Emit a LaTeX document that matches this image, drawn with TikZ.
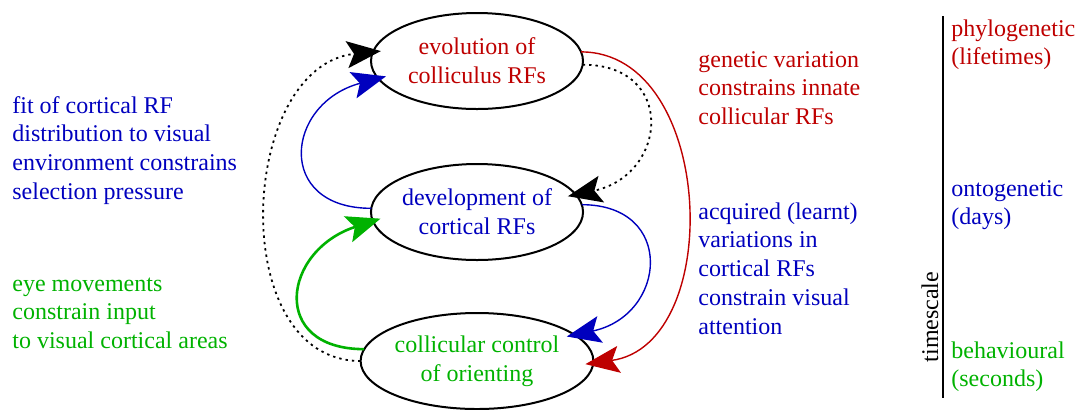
\documentclass[tikz,border=0pt]{standalone}
\usepackage{fontspec}
\setmainfont{Liberation Serif}
\newfontfamily\tms{Liberation Serif}
\usetikzlibrary{shapes.geometric,arrows.meta}
\definecolor{cred}{RGB}{190,0,0}
\definecolor{cblue}{RGB}{0,0,190}
\definecolor{cgreen}{RGB}{0,178,0}
\begin{document}
\begin{tikzpicture}[x=0.5pt,y=-0.5pt,
  every node/.style={font=\tms\fontsize{12}{14.4}\selectfont},
  stage/.style={ellipse,draw,line width=1pt,minimum width=106pt,minimum height=48pt,inner sep=0pt,outer sep=0pt,align=center},
  lbl/.style={anchor=base west,align=left,inner sep=0pt},
  tip/.style={-{Stealth[length=17pt,width=13.5pt,inset=3.5pt]},shorten >=-4pt},
  link/.style={tip,line width=0.7pt},
  dots/.style={tip,line width=0.9pt,dash pattern=on 1.2pt off 2pt}]
\useasboundingbox (0,0) rectangle (1076,409);
\node[stage,text=cred] (T) at (477,61) {evolution of\\colliculus RFs};
\node[stage,text=cblue] (M) at (477,212) {development of\\cortical RFs};
\node[stage,text=cgreen] (B) at (477,361) {collicular control\\of orienting};
% left side
\draw[link,cblue] (M.178) to[out=180,in=195,looseness=1.9] (T.190);
\draw[link,cgreen,line width=1.3pt] (B.174) to[out=180,in=198,looseness=1.9] (M.185);
\draw[dots] (B.180) to[out=180,in=186,looseness=1.12] (T.175);
% right side
\draw[dots] (T.358) to[out=0,in=12,looseness=1.85] (M.10);
\draw[link,cred] (T.5) to[out=0,in=8,looseness=1.1] (B.359);
\draw[link,cblue] (M.4) to[out=0,in=12,looseness=1.85] (B.15);
% annotations
\node[lbl,text=cblue] (a1) at (12,199.4) {fit of cortical RF\\distribution to visual\\environment constrains\\selection pressure};
\node[lbl,text=cgreen] (a2) at (12,348.6) {eye movements\\constrain input\\to visual cortical areas};
\node[lbl,text=cred] (a3) at (698,124.6) {genetic variation\\constrains innate\\collicular RFs};
\node[lbl,text=cblue] (a4) at (698,334.2) {acquired (learnt)\\variations in\\cortical RFs\\constrain visual\\attention};
% timescale
\coordinate (ts1) at (943,16);
\coordinate (ts2) at (943,398);
\draw[line width=1pt] (ts1) -- (ts2);
\node[rotate=90,inner sep=0pt] (tsl) at (930,317) {timescale};
\node[lbl,text=cred] (p1) at (951,64.8) {phylogenetic\\(lifetimes)};
\node[lbl,text=cblue] (p2) at (951,224.8) {ontogenetic\\(days)};
\node[lbl,text=cgreen] (p3) at (951,386.8) {behavioural\\(seconds)};
\end{tikzpicture}
\end{document}
